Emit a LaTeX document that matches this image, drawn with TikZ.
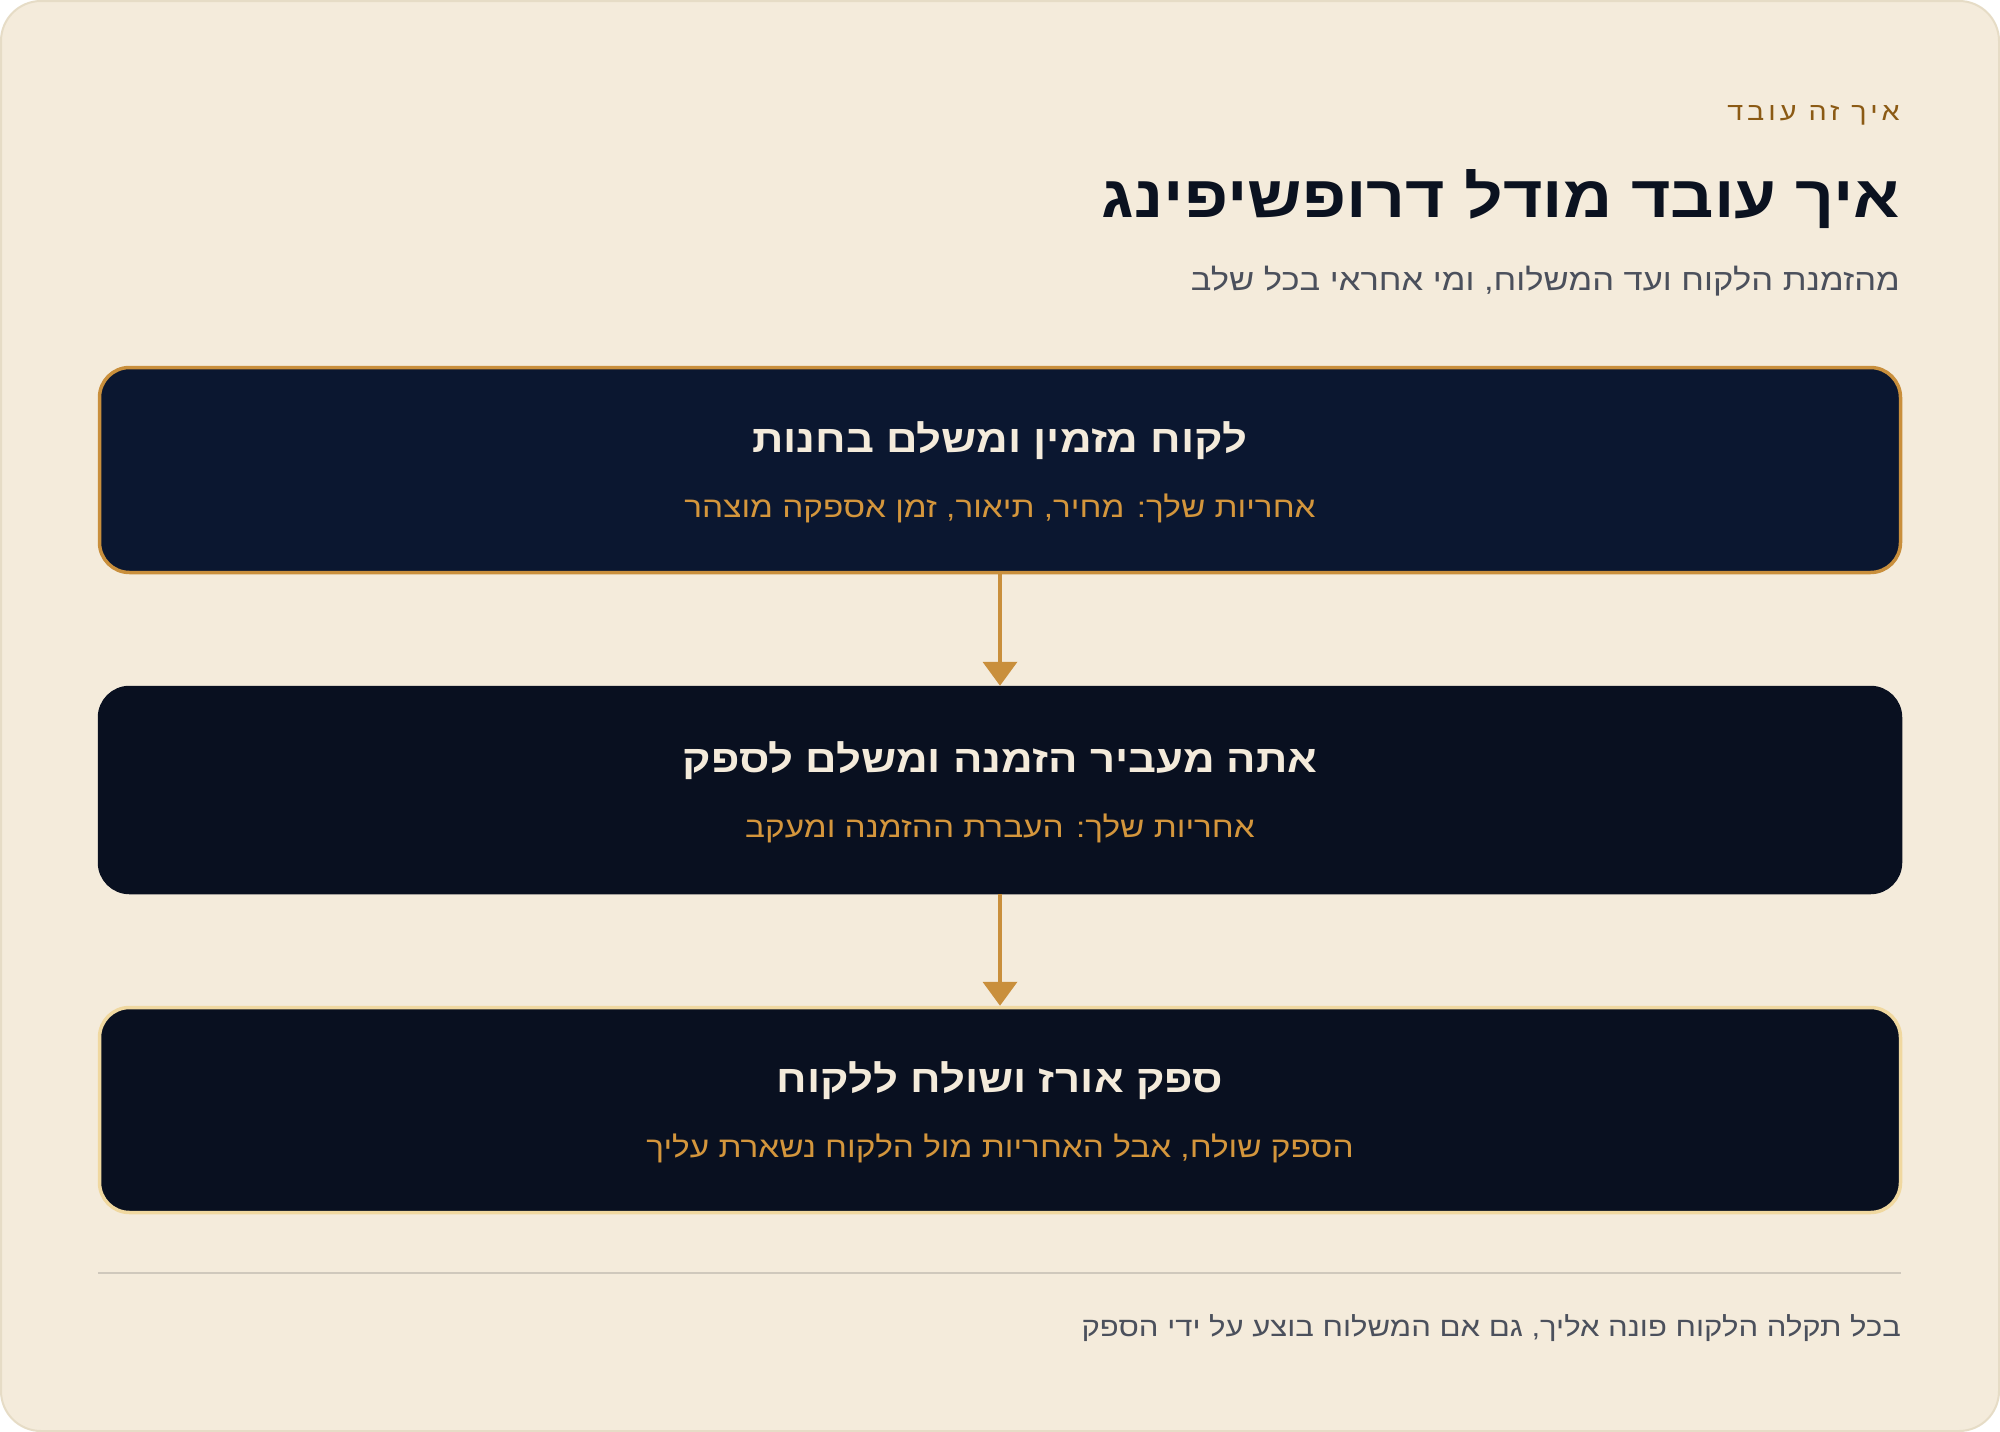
\documentclass[tikz,border=0pt]{standalone}
\usepackage{fontspec}
\setmainfont{Liberation Sans}
\newfontfamily\hebfont[Script=Hebrew,FakeStretch=1.15]{Liberation Sans}
\newfontfamily\hebspaced[Script=Hebrew,FakeStretch=1.15,LetterSpace=16]{Liberation Sans}
\TeXXeTstate=1
\usetikzlibrary{arrows.meta, positioning}
\definecolor{cardbg}{RGB}{244, 235, 219}
\definecolor{cardedge}{RGB}{230, 220, 198}
\definecolor{inkdark}{RGB}{11, 18, 32}
\definecolor{slategray}{RGB}{75, 80, 92}
\definecolor{eyebrowbrown}{RGB}{139, 90, 20}
\definecolor{navyA}{RGB}{11, 23, 48}
\definecolor{navyB}{RGB}{9, 16, 32}
\definecolor{dropgold}{RGB}{201, 143, 60}
\definecolor{palegold}{RGB}{240, 216, 160}
\definecolor{cream}{RGB}{244, 235, 219}
\definecolor{subgold}{RGB}{212, 150, 60}
\definecolor{rulegray}{RGB}{207, 200, 188}
\tikzstyle{stepbox} = [rectangle, rounded corners=30pt, minimum width=1801pt, minimum height=205pt, inner sep=0pt, line width=3.5pt]
\tikzstyle{heb} = [inner sep=0pt]
\tikzstyle{arrow} = [line width=4pt, dropgold, -{Triangle[width=34pt,length=24pt]}]

\begin{document}
\begin{tikzpicture}[x=1pt, y=-1pt]
\useasboundingbox (0,0) rectangle (2000,1432);
\fill[white] (0,0) rectangle (2000,1432);
% Card background
\draw[fill=cardbg, draw=cardedge, line width=2pt, rounded corners=40pt] (1,1) rectangle (1999,1431);

% Header texts
\node[heb, anchor=base east, text=eyebrowbrown, font=\hebspaced\fontsize{25}{30}\selectfont] (eyebrow) at (1900,120) {\beginR איך זה עובד\endR};
\node[heb, anchor=base east, text=inkdark, font=\hebfont\bfseries\fontsize{59}{70}\selectfont] (headline) at (1900,217) {\beginR איך עובד מודל דרופשיפינג\endR};
\node[heb, anchor=base east, text=slategray, font=\hebfont\fontsize{30}{36}\selectfont] (subline) at (1900,290) {\beginR מהזמנת הלקוח ועד המשלוח, ומי אחראי בכל שלב\endR};

% Step boxes
\foreach \i/\y/\fillcol/\edgecol/\title/\sub in {
    1/470/navyA/dropgold/{לקוח מזמין ומשלם בחנות}/{אחריות שלך: מחיר, תיאור, זמן אספקה מוצהר},
    2/790/navyB/navyB/{אתה מעביר הזמנה ומשלם לספק}/{אחריות שלך: העברת ההזמנה ומעקב},
    3/1110/navyB/palegold/{ספק אורז ושולח ללקוח}/{הספק שולח, אבל האחריות מול הלקוח נשארת עליך}} {
    \node[stepbox, fill=\fillcol, draw=\edgecol] (step\i) at (1000,\y) {};
    \node[heb, anchor=base, text=cream, font=\hebfont\bfseries\fontsize{38}{46}\selectfont] (steptitle\i) at (1000,\y-18) {\beginR\title\endR};
    \node[heb, anchor=base, text=subgold, font=\hebfont\fontsize{29}{35}\selectfont] (stepsub\i) at (1000,\y+47) {\beginR\sub\endR};
}

% Arrows between steps
\draw[arrow] (step1.south) -- (step2.north);
\draw[arrow] (step2.south) -- (step3.north);

% Footer
\coordinate (ruleL) at (98,1273);
\coordinate (ruleR) at (1901,1273);
\draw[rulegray, line width=2pt] (ruleL) -- (ruleR);
\node[heb, anchor=base east, text=slategray, font=\hebfont\fontsize{27}{32}\selectfont] (footer) at (1901,1336) {\beginR בכל תקלה הלקוח פונה אליך, גם אם המשלוח בוצע על ידי הספק\endR};
\end{tikzpicture}
\end{document}
